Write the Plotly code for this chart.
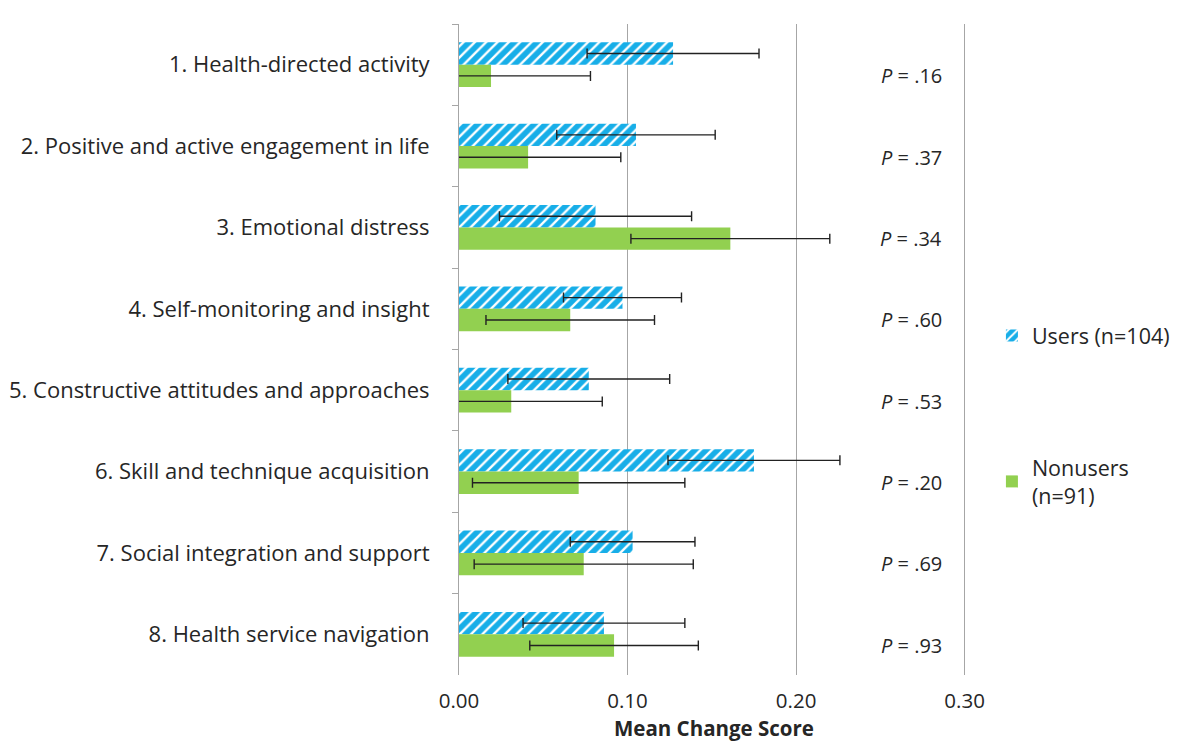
import plotly.graph_objects as go

categories = [
    "1. Health-directed activity",
    "2. Positive and active engagement in life",
    "3. Emotional distress",
    "4. Self-monitoring and insight",
    "5. Constructive attitudes and approaches",
    "6. Skill and technique acquisition",
    "7. Social integration and support",
    "8. Health service navigation",
]
users_mean = [0.127, 0.105, 0.081, 0.097, 0.077, 0.175, 0.103, 0.086]
users_err = [0.051, 0.047, 0.057, 0.035, 0.048, 0.051, 0.037, 0.048]
nonusers_mean = [0.019, 0.041, 0.161, 0.066, 0.031, 0.071, 0.074, 0.092]
nonusers_err = [0.059, 0.055, 0.059, 0.050, 0.054, 0.063, 0.065, 0.050]
p_labels = [".16", ".37", ".34", ".60", ".53", ".20", ".69", ".93"]
x_ticks = [0.0, 0.1, 0.2, 0.3]
x_ticklabels = ["0.00", "0.10", "0.20", "0.30"]
x_title = "Mean Change Score"

BLUE = "#17AEE8"
GREEN = "#92D050"
TXT = "#262626"
GRID = "#A6A6A6"
FONT = "Open Sans"

fig = go.Figure()
fig.add_trace(go.Bar(
    y=categories, x=users_mean, orientation="h", name="Users (n=104)",
    marker=dict(color=BLUE, line=dict(width=0),
                pattern=dict(shape="/", bgcolor=BLUE, fgcolor="white",
                             size=8, solidity=0.3, fillmode="replace")),
    error_x=dict(type="data", array=users_err, color="#222222",
                 thickness=1.4, width=5),
    legendgroup="u",
))
fig.add_trace(go.Bar(
    y=categories, x=nonusers_mean, orientation="h", name="Nonusers<br>(n=91)",
    marker=dict(color=GREEN, line=dict(width=0)),
    error_x=dict(type="data", array=nonusers_err, color="#222222",
                 thickness=1.4, width=5),
    legendgroup="n",
))

for cat, p in zip(categories, p_labels):
    fig.add_annotation(x=0.288, y=cat, xref="x", yref="y", xanchor="right",
                       yanchor="middle", yshift=-11, showarrow=False,
                       text="<i>P</i> = " + p,
                       font=dict(family=FONT, size=20, color=TXT))

# x-axis title placed below the tick labels
fig.add_annotation(x=0.5, y=0, xref="paper", yref="paper", xanchor="center",
                   yanchor="middle", yshift=-53, showarrow=False,
                   text="<b>" + x_title + "</b>",
                   font=dict(family=FONT, size=20.5, color=TXT))

# the page body adds an 8px offset, so the figure is sized/positioned to compensate
fig.update_layout(
    width=1173, height=735,
    margin=dict(l=451, r=213, t=16, b=68, autoexpand=False),
    paper_bgcolor="white", plot_bgcolor="white",
    barmode="group", bargap=0.45, bargroupgap=0,
    font=dict(family=FONT, size=21, color=TXT),
    legend=dict(x=1.047, y=0.553, xanchor="left", yanchor="top",
                traceorder="grouped", tracegroupgap=101,
                font=dict(family=FONT, size=21.5, color=TXT),
                itemwidth=30, bgcolor="rgba(0,0,0,0)"),
    xaxis=dict(range=[0, 0.302], tickvals=x_ticks, ticktext=x_ticklabels,
               showgrid=True, gridcolor=GRID, gridwidth=1, zeroline=False,
               showline=False, ticks="", ticklabelstandoff=11,
               tickfont=dict(family=FONT, size=20.5, color=TXT)),
    yaxis=dict(autorange="reversed", showline=True, linecolor=GRID,
               linewidth=1, ticks="outside", ticklen=6, tickcolor=GRID,
               tickson="boundaries", showgrid=False, ticklabelstandoff=24,
               tickfont=dict(family=FONT, size=22, color=TXT)),
)

fig.write_html("out.html")
